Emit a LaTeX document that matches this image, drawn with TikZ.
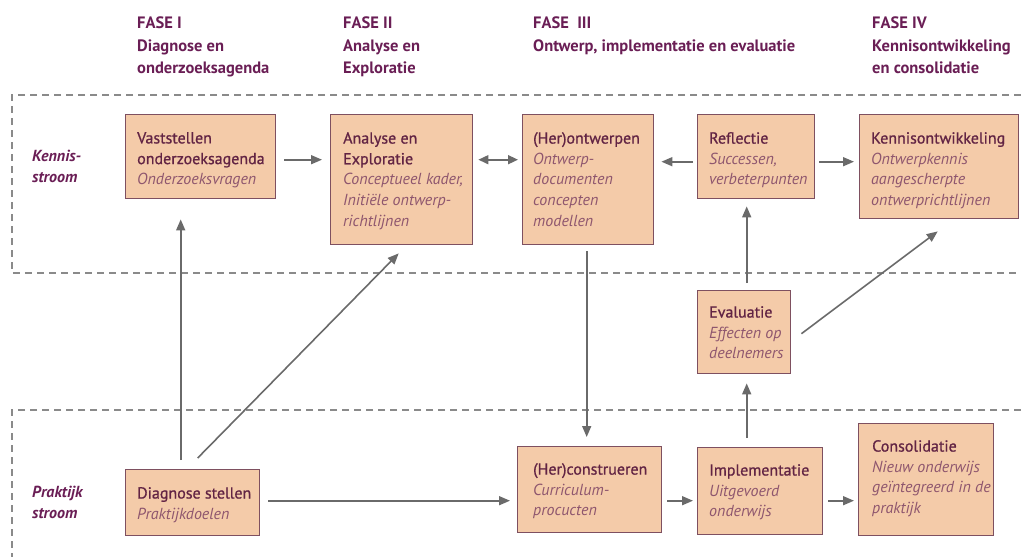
\documentclass[tikz,border=0pt]{standalone}
\usepackage{fontspec}
\setmainfont{PT Sans}
\newfontfamily\semib[FakeBold=0.9]{PT Sans}
\usetikzlibrary{arrows.meta,calc}
\definecolor{boxfill}{HTML}{F4CBA9}
\definecolor{boxline}{HTML}{7E5060}
\definecolor{headcol}{HTML}{6A1E55}
\definecolor{titlecol}{HTML}{622444}
\definecolor{itcol}{HTML}{8E566E}
\definecolor{arrcol}{HTML}{6A6A6A}
\definecolor{dashcol}{HTML}{8A8A8A}
\tikzset{
  box/.style={draw=boxline, line width=1.4pt, fill=boxfill, inner sep=0pt, anchor=north west},
  boxtext/.style={anchor=north west, inner sep=0pt, align=left, font=\fontsize{16}{20.7}\selectfont},
  head/.style={anchor=north west, inner sep=0pt, align=left, text=headcol, font=\fontsize{16.5}{22.5}\selectfont\bfseries},
  stream/.style={anchor=north west, inner sep=0pt, align=left, text=headcol, font=\fontsize{16}{21}\selectfont\bfseries\itshape},
  arr/.style={draw=arrcol, line width=1.6pt, -{Triangle[length=11pt,width=9pt]}},
  darr/.style={draw=arrcol, line width=1.6pt, {Triangle[length=10pt,width=9pt]}-{Triangle[length=10pt,width=9pt]}},
  lane/.style={draw=dashcol, line width=1.3pt, dash pattern=on 7pt off 5pt}
}
\newcommand{\T}[1]{\textcolor{titlecol}{\semib #1}}
\newcommand{\I}[1]{\textcolor{itcol}{\itshape #1}}
\begin{document}
\begin{tikzpicture}[x=1pt,y=-1pt]
\useasboundingbox (0,0) rectangle (1021,557);
% lanes
\draw[lane] (1021,95) -- (12,95) -- (12,273) -- (1021,273);
\draw[lane] (1021,410) -- (12,410) -- (12,557);
% headers
\node[head] (h1) at (137,17) {FASE I\\Diagnose en\\onderzoeksagenda};
\node[head] (h2) at (343,17) {FASE II\\Analyse en\\Exploratie};
\node[head] (h3) at (533,17) {FASE\ \ III\\Ontwerp, implementatie en evaluatie};
\node[head] (h4) at (872,17) {FASE IV\\Kennisontwikkeling\\en consolidatie};
\node[stream] (s1) at (32,150) {Kennis-\\stroom};
\node[stream] (s2) at (32,486) {Praktijk\\stroom};
% boxes
\node[box, minimum width=150pt, minimum height=84pt] (v) at (125,114) {};
\node[box, minimum width=142pt, minimum height=130pt] (a) at (330,114) {};
\node[box, minimum width=131pt, minimum height=130pt] (o) at (522,114) {};
\node[box, minimum width=117pt, minimum height=84pt] (r) at (697,114) {};
\node[box, minimum width=159pt, minimum height=104pt] (k) at (859,114) {};
\node[box, minimum width=93pt, minimum height=83pt] (e) at (697,290) {};
\node[box, minimum width=144pt, minimum height=86pt] (h) at (517,446) {};
\node[box, minimum width=125pt, minimum height=87pt] (i) at (697,447) {};
\node[box, minimum width=135pt, minimum height=112pt] (c) at (858,423) {};
\node[box, minimum width=134pt, minimum height=66pt] (d) at (125,469) {};
% box texts
\node[boxtext] (vt) at ($(v.north west)+(12,18)$) {\T{Vaststellen}\\\T{onderzoeksagenda}\\\I{Onderzoeksvragen}};
\node[boxtext] (at) at ($(a.north west)+(13,18)$) {\T{Analyse en}\\\T{Exploratie}\\\I{Conceptueel kader,}\\\I{Initiële ontwerp-}\\\I{richtlijnen}};
\node[boxtext] (ot) at ($(o.north west)+(11,18)$) {\T{(Her)ontwerpen}\\\I{Ontwerp-}\\\I{documenten}\\\I{concepten}\\\I{modellen}};
\node[boxtext] (rt) at ($(r.north west)+(12,18)$) {\T{Reflectie}\\\I{Successen,}\\\I{verbeterpunten}};
\node[boxtext] (kt) at ($(k.north west)+(12,18)$) {\T{Kennisontwikkeling}\\\I{Ontwerpkennis}\\\I{aangescherpte}\\\I{ontwerprichtlijnen}};
\node[boxtext] (et) at ($(e.north west)+(12,16)$) {\T{Evaluatie}\\\I{Effecten op}\\\I{deelnemers}};
\node[boxtext] (ht) at ($(h.north west)+(16,17)$) {\T{(Her)construeren}\\\I{Curriculum-}\\\I{procucten}};
\node[boxtext] (it) at ($(i.north west)+(12,17)$) {\T{Implementatie}\\\I{Uitgevoerd}\\\I{onderwijs}};
\node[boxtext] (ct) at ($(c.north west)+(14,17)$) {\T{Consolidatie}\\\I{Nieuw onderwijs}\\\I{geïntegreerd in de}\\\I{praktijk}};
\node[boxtext] (dt) at ($(d.north west)+(12,18)$) {\T{Diagnose stellen}\\\I{Praktijkdoelen}};
% connectors
\draw[arr] ($(v.east)+(8,3)$) -- ($(a.west)+(-8,-20)$);
\draw[darr] ($(a.east)+(5,-20)$) -- ($(o.west)+(-4,-20)$);
\draw[arr] ($(r.west)+(-4,5)$) -- ($(o.east)+(7,-18)$);
\draw[arr] ($(r.east)+(4,5)$) -- ($(k.west)+(-5,-5)$);
\draw[arr] ($(d.north)+(-12,-9)$) -- ($(v.south)+(-20,20)$);
\draw[arr] ($(d.north)+(5,-11)$) -- ($(a.south)+(-3,8)$);
\draw[arr] ($(o.south)+(-1.5,6)$) -- ($(h.north)+(-3,-9)$);
\draw[arr] ($(e.north)+(2.5,-7)$) -- ($(r.south)+(-9.5,7)$);
\draw[arr] ($(e.east)+(10,1.5)$) -- ($(k.south)+(-1.5,12)$);
\draw[arr] ($(i.north)+(-13.5,-9)$) -- ($(e.south)+(2.5,9)$);
\draw[arr] ($(d.east)+(8,-2)$) -- ($(h.west)+(-7,11)$);
\draw[arr] ($(h.east)+(5,11)$) -- ($(i.west)+(-4,9.5)$);
\draw[arr] ($(i.east)+(5,9.5)$) -- ($(c.west)+(-4,21)$);
\end{tikzpicture}
\end{document}
